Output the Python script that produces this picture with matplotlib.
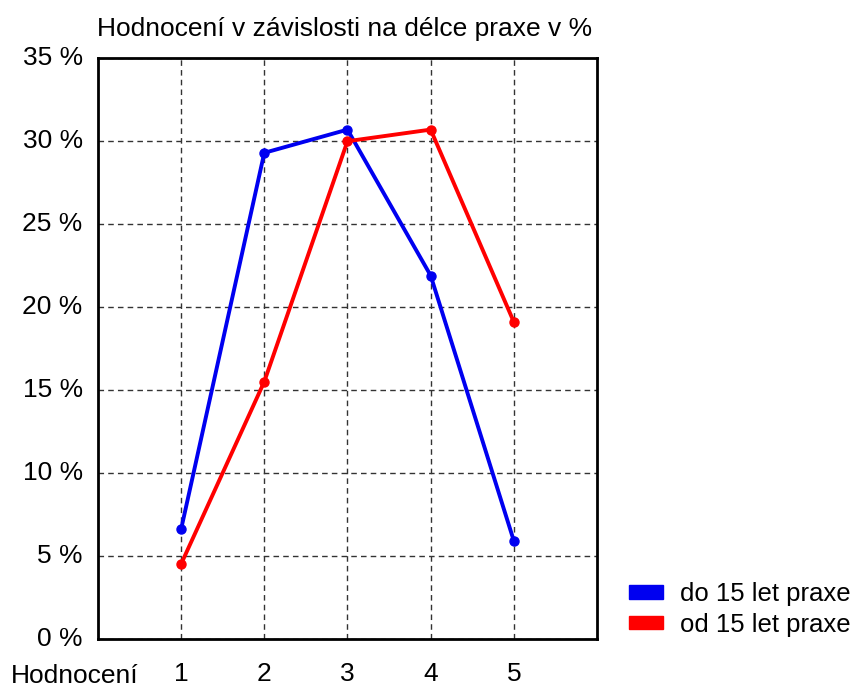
import matplotlib
matplotlib.use("Agg")
import matplotlib.pyplot as plt
from matplotlib.patches import Patch

plt.rcParams['font.family'] = ['Liberation Sans', 'DejaVu Sans']

# data
hodnoceni = [1, 2, 3, 4, 5]
do_15 = [6.6, 29.3, 30.7, 21.9, 5.9]
od_15 = [4.5, 15.5, 30.0, 30.7, 19.1]
y_ticks = [0, 5, 10, 15, 20, 25, 30, 35]
labels = ["do 15 let praxe", "od 15 let praxe"]

FS = 19

fig = plt.figure(figsize=(8.59, 6.86), dpi=100)
ax = fig.add_axes([0.114, 0.069, 0.581, 0.846])

ax.plot(hodnoceni, do_15, color="#0000f0", lw=2.8, marker="o", ms=6.5, zorder=3)
ax.plot(hodnoceni, od_15, color="#ff0000", lw=2.8, marker="o", ms=6.5, zorder=3)

ax.set_xlim(0, 6)
ax.set_ylim(0, 35)
ax.set_xticks(hodnoceni)
ax.set_yticks(y_ticks)
ax.set_yticklabels([f"{v} %" for v in y_ticks])
ax.tick_params(axis="both", length=0, labelsize=FS)
ax.tick_params(axis="x", pad=17)
ax.tick_params(axis="y", pad=11)
for t in ax.get_yticklabels():
    t.set_y(0)
    t.set_va("center")

ax.grid(True, color="#333333", ls=(0, (4, 3)), lw=1)
for s in ax.spines.values():
    s.set_linewidth(2)

ax.text(0.081, -0.043, "Hodnocení", transform=ax.transAxes, ha="right", va="top",
        fontsize=FS)
ax.set_title("Hodnocení v závislosti na délce praxe v %", fontsize=FS, loc="left",
             x=-0.002, pad=16)

handles = [Patch(color="#0000f0"), Patch(color="#ff0000")]
fig.legend(handles, labels, loc="lower left", bbox_to_anchor=(0.732, 0.072),
           frameon=False, fontsize=18.5, handlelength=1.32, handleheight=0.43,
           handletextpad=0.66, labelspacing=0.25, borderpad=0, borderaxespad=0)

fig.savefig("out.png", dpi=100)
